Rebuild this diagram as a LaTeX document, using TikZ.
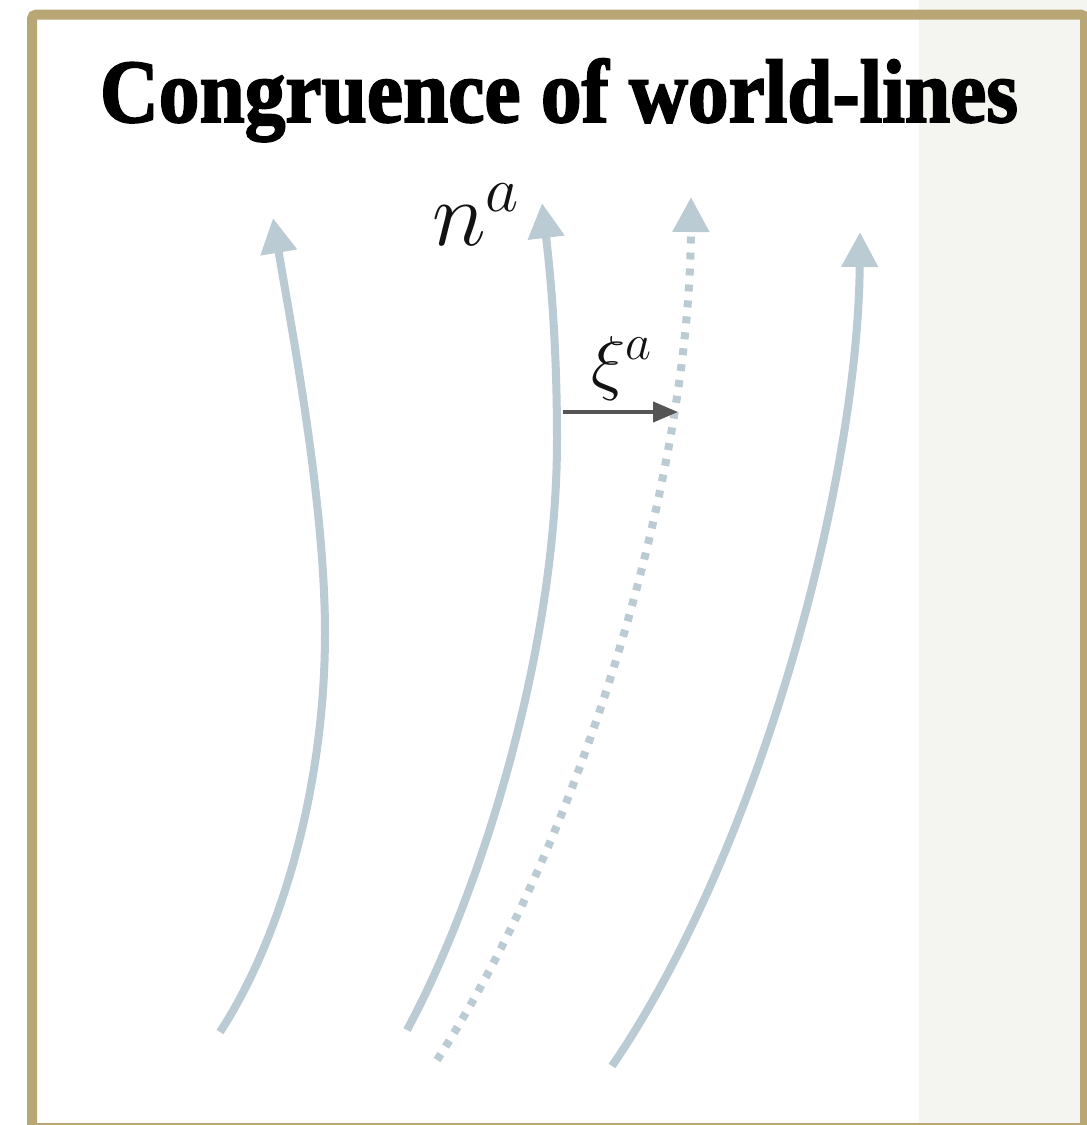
\RequirePackage{fix-cm}
\documentclass[tikz,border=0pt]{standalone}
\usepackage{fontspec}
\usepackage{graphicx}
\newfontfamily\titlefont{Liberation Serif}[BoldFeatures={FakeBold=2.2}]
\usetikzlibrary{arrows.meta}
\definecolor{frametan}{HTML}{B8A775}
\definecolor{panelgrey}{HTML}{F4F5F1}
\definecolor{lineblue}{HTML}{BACBD3}
\definecolor{vecgrey}{HTML}{555555}
\begin{document}
\begin{tikzpicture}[x=1pt,y=-1pt,
  worldline/.style={draw=lineblue,line width=8pt,-{Triangle[width=35pt,length=35pt]}},
  dottedline/.style={draw=lineblue,line width=8pt,dash pattern=on 7pt off 9pt,-{Triangle[width=35pt,length=35pt]}},
  vec/.style={draw=vecgrey,line width=4pt,-{Triangle[width=20pt,length=25pt]}},
  lab/.style={anchor=base west,inner sep=0pt,text=black!93}]
\useasboundingbox (0,0) rectangle (1087,1125);
\clip (0,0) rectangle (1087,1125);
\fill[white] (0,0) rectangle (1087,1125);
\fill[panelgrey] (919,0) rectangle (1087,1125);
\draw[frametan,line width=10pt,rounded corners=4pt] (32,14.7) rectangle (1085,1128);
\node[anchor=base,inner sep=0pt] (title) at (559,122)
  {\resizebox{918pt}{\height}{\titlefont\bfseries\fontsize{90}{90}\selectfont Congruence of world-lines}};
% world-lines
\draw[worldline] (220,1032) .. controls (280,940) and (325,790) .. (325,633)
  .. controls (325,500) and (290,320) .. (273,218);
\draw[worldline] (407,1030) .. controls (480,895) and (557,650) .. (557,440)
  .. controls (557,340) and (550,270) .. (542,203);
\draw[dottedline] (437,1060) .. controls (580,840) and (690,480) .. (691,197);
\draw[worldline] (612,1066) .. controls (760,850) and (858,480) .. (860,232);
% deviation vector
\coordinate (xs) at (563,412);
\coordinate (xe) at (678,412);
\draw[vec] (xs) -- (xe);
% labels
\node[lab,font=\fontsize{92}{92}\selectfont] (nlabel) at (432,245) {$n^{a}$};
\node[lab,font=\fontsize{72}{72}\selectfont] (xilabel) at (591,386) {$\xi^a$};
\end{tikzpicture}
\end{document}
